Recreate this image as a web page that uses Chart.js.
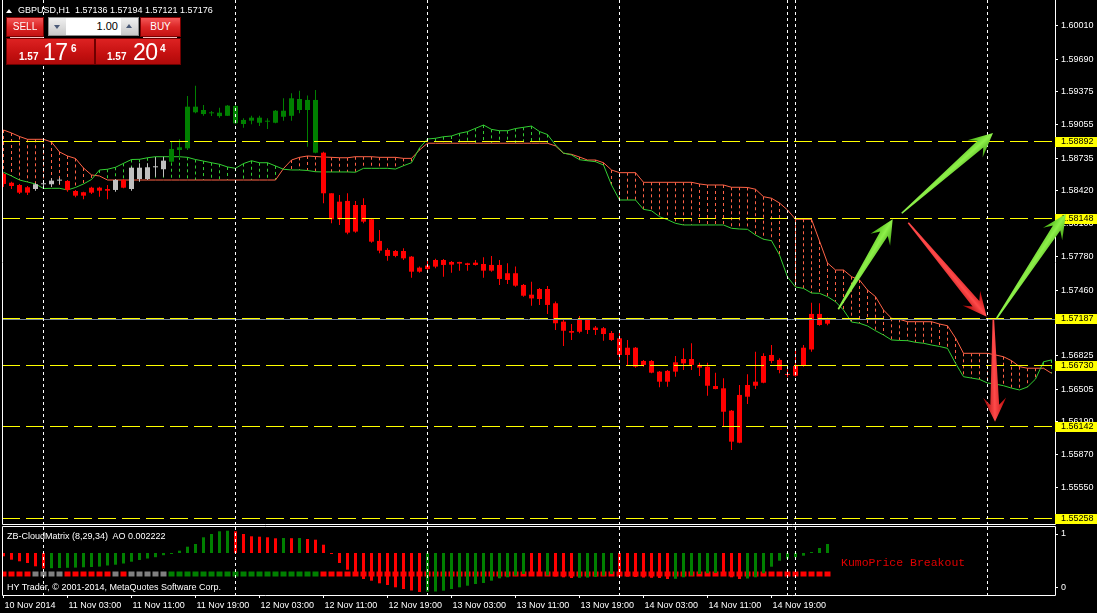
<!DOCTYPE html>
<html><head><meta charset="utf-8">
<script src="https://cdn.jsdelivr.net/npm/chart.js@4.4.1/dist/chart.umd.min.js"></script>
<style>
html,body{margin:0;padding:0;background:#000;}
#wrap{position:relative;width:1097px;height:613px;overflow:hidden;background:#000;font-family:"Liberation Sans",Arial,sans-serif;}
canvas{position:absolute;left:0;}
#c1{top:0;}
#c2{top:525px;}
.t{position:absolute;color:#fff;font-size:9px;line-height:11px;white-space:nowrap;z-index:5;}
#tri{position:absolute;left:6px;top:9px;width:0;height:0;border-left:3px solid transparent;border-right:3px solid transparent;border-bottom:4px solid #fff;z-index:5;}
.btn{position:absolute;top:17px;height:20px;box-sizing:border-box;border:1px solid #7a0000;background:linear-gradient(#f35656,#dc2626 50%,#c31212);color:#fff;font-size:10px;line-height:18px;text-align:center;z-index:5;}
.hl{position:absolute;top:37px;height:1px;background:#f3c0c0;z-index:6;}
#lot{position:absolute;left:48px;top:17px;width:91px;height:19px;box-sizing:border-box;border:1px solid #8c8c8c;background:#fff;z-index:5;}
.spin{position:absolute;top:0;width:17px;height:17px;background:linear-gradient(#f0f0f0,#c9c9c9);}
.spin i{position:absolute;left:5px;width:0;height:0;border-left:3px solid transparent;border-right:3px solid transparent;}
#lotv{position:absolute;left:18px;width:51px;top:0;height:17px;line-height:17px;text-align:right;font-size:11px;color:#000;}
.pbox{position:absolute;top:38px;height:27px;box-sizing:border-box;border:1px solid #6e0000;background:linear-gradient(#dd2222,#c41010 60%,#b00a0a);color:#fff;z-index:5;}
.pbox span{position:absolute;white-space:nowrap;}
.sm{font-size:10px;font-weight:bold;line-height:10px;top:13px;}
.big{font-size:23px;line-height:23px;top:2px;letter-spacing:-0.5px;}
.sup{font-size:10px;font-weight:bold;line-height:10px;top:5px;}
#kumo{position:absolute;left:841px;top:557px;font-family:"Liberation Mono","Courier New",monospace;font-size:11.5px;line-height:12px;color:#e00000;white-space:nowrap;z-index:5;}
</style></head>
<body><div id="wrap">
<canvas id="c1" width="1097" height="525" style="width:1097px;height:525px"></canvas>
<canvas id="c2" width="1097" height="88" style="width:1097px;height:88px"></canvas>

<div id="tri"></div>
<div class="t" style="left:18px;top:5px">GBPUSD,H1&nbsp; 1.57136 1.57194 1.57121 1.57176</div>

<div class="btn" style="left:6px;width:38px">SELL</div>
<div class="hl" style="left:10px;width:33px"></div>
<div id="lot">
  <div class="spin" style="left:0"><i style="top:7px;border-top:4px solid #4a5a78"></i></div>
  <div id="lotv">1.00</div>
  <div class="spin" style="right:0"><i style="top:6px;border-bottom:4px solid #4a5a78"></i></div>
</div>
<div class="btn" style="left:140px;width:41px">BUY</div>
<div class="hl" style="left:143px;width:34px"></div>
<div class="pbox" style="left:6px;width:89px"><span class="sm" style="left:12px">1.57</span><span class="big" style="left:36px">17</span><span class="sup" style="left:64px">6</span></div>
<div class="pbox" style="left:95px;width:86px"><span class="sm" style="left:11px">1.57</span><span class="big" style="left:37px">20</span><span class="sup" style="left:64px">4</span></div>

<div class="t" style="left:7px;top:531px">ZB-CloudMatrix (8,29,34)&nbsp; AO 0.002222</div>
<div class="t" style="left:7px;top:582px">HY Trader, © 2001-2014, MetaQuotes Software Corp.</div>
<div id="kumo">KumoPrice Breakout</div>
</div>

<script>
// ---------------- DATA ----------------
const timeTicks  = [0, 8, 16, 24, 32, 40, 48, 56, 64, 72, 80, 88, 96];
const timeLabels = ["10 Nov 2014","11 Nov 03:00","11 Nov 11:00","11 Nov 19:00","12 Nov 03:00","12 Nov 11:00",
                    "12 Nov 19:00","13 Nov 03:00","13 Nov 11:00","13 Nov 19:00","14 Nov 03:00","14 Nov 11:00","14 Nov 19:00"];
const priceTicks = [1.60010,1.59690,1.59375,1.59055,1.58735,1.58420,1.58100,1.57780,1.57460,1.56825,1.56505,1.56190,1.55870,1.55550];

const open = [1.58581,1.58497,1.58475,1.58453,1.58436,1.58482,1.58482,1.58517,1.58514,1.58417,
1.58405,1.58401,1.58449,1.58420,1.58427,1.58523,1.58436,1.58533,1.58533,1.58646,
1.58627,1.58700,1.58813,1.58829,1.59231,1.59160,1.59167,1.59140,1.59143,1.59238,
1.59064,1.59096,1.59125,1.59086,1.59076,1.59192,1.59143,1.59305,1.59199,1.59296,
1.58787,1.58395,1.58144,1.58321,1.58025,1.58282,1.58144,1.57935,1.57848,1.57790,
1.57838,1.57783,1.57677,1.57664,1.57687,1.57751,1.57706,1.57732,1.57703,1.57725,
1.57712,1.57648,1.57703,1.57558,1.57623,1.57510,1.57416,1.57374,1.57471,1.57333,
1.57156,1.57065,1.57058,1.57172,1.57075,1.57092,1.57046,1.56995,1.56834,1.56904,
1.56738,1.56776,1.56673,1.56576,1.56673,1.56753,1.56795,1.56738,1.56721,1.56534,
1.56512,1.56296,1.55987,1.56431,1.56537,1.56566,1.56834,1.56786,1.56641,1.56634,
1.56728,1.56887,1.57230,1.57136];
const high = [1.58591,1.58507,1.58485,1.58465,1.58492,1.58507,1.58540,1.58546,1.58523,1.58427,
1.58410,1.58459,1.58459,1.58475,1.58533,1.58533,1.58652,1.58684,1.58684,1.58742,
1.58748,1.58893,1.58916,1.59334,1.59434,1.59247,1.59189,1.59221,1.59247,1.59247,
1.59120,1.59144,1.59144,1.59120,1.59199,1.59312,1.59361,1.59385,1.59338,1.59392,
1.58797,1.58395,1.58378,1.58395,1.58321,1.58347,1.58147,1.58041,1.57864,1.57848,
1.57864,1.57790,1.57687,1.57744,1.57764,1.57761,1.57741,1.57735,1.57725,1.57751,
1.57777,1.57790,1.57751,1.57719,1.57687,1.57520,1.57542,1.57481,1.57500,1.57349,
1.57172,1.57134,1.57211,1.57182,1.57114,1.57104,1.57065,1.57058,1.56979,1.56911,
1.56786,1.56786,1.56680,1.56689,1.56824,1.56898,1.56947,1.56760,1.56760,1.56663,
1.56609,1.56302,1.56544,1.56647,1.56866,1.56850,1.56930,1.56802,1.56696,1.56898,
1.56930,1.57339,1.57333,1.57194];
const low = [1.58456,1.58436,1.58388,1.58378,1.58420,1.58443,1.58458,1.58485,1.58410,1.58356,
1.58337,1.58388,1.58362,1.58337,1.58410,1.58443,1.58420,1.58507,1.58523,1.58555,
1.58555,1.58684,1.58733,1.58813,1.59167,1.59143,1.59140,1.59124,1.59140,1.59061,
1.59028,1.59061,1.59045,1.59016,1.59071,1.59096,1.59096,1.59167,1.58845,1.58781,
1.58298,1.58105,1.58089,1.57999,1.58015,1.58105,1.57918,1.57815,1.57744,1.57777,
1.57751,1.57580,1.57628,1.57655,1.57671,1.57590,1.57628,1.57648,1.57648,1.57697,
1.57580,1.57638,1.57510,1.57520,1.57493,1.57396,1.57310,1.57317,1.57230,1.57075,
1.56921,1.56979,1.57043,1.57036,1.57027,1.56972,1.56969,1.56766,1.56728,1.56711,
1.56721,1.56657,1.56522,1.56528,1.56624,1.56689,1.56689,1.56631,1.56441,1.56502,
1.56142,1.55917,1.55981,1.56361,1.56505,1.56560,1.56753,1.56657,1.56620,1.56624,
1.56721,1.56866,1.57115,1.57121];
const close = [1.58485,1.58465,1.58401,1.58401,1.58482,1.58482,1.58517,1.58517,1.58427,1.58372,
1.58372,1.58449,1.58420,1.58436,1.58523,1.58449,1.58642,1.58642,1.58646,1.58646,
1.58710,1.58823,1.58839,1.59231,1.59177,1.59199,1.59167,1.59173,1.59241,1.59071,
1.59103,1.59125,1.59076,1.59086,1.59192,1.59134,1.59312,1.59199,1.59296,1.58787,
1.58395,1.58144,1.58314,1.58015,1.58282,1.58121,1.57928,1.57841,1.57790,1.57838,
1.57767,1.57638,1.57638,1.57697,1.57751,1.57703,1.57732,1.57716,1.57719,1.57703,
1.57648,1.57703,1.57568,1.57623,1.57503,1.57406,1.57380,1.57471,1.57317,1.57140,
1.57068,1.57049,1.57172,1.57075,1.57098,1.57036,1.56979,1.56834,1.56904,1.56721,
1.56776,1.56663,1.56576,1.56680,1.56763,1.56795,1.56738,1.56712,1.56537,1.56505,
1.56286,1.55997,1.56448,1.56544,1.56576,1.56824,1.56776,1.56689,1.56641,1.56728,
1.56904,1.57230,1.57123,1.57176];
// trend state per bar: r = down, g = up, n = neutral
const signal = ["r","r","r","r","n","n","n","n","r","r","r","r","r","r","n","r","n","n","n","n","n",
"g","g","g","g","g","g","g","g","g","g","g","g","g","g","g","g","g","g","g",
"r","r","r","r","r","r","r","r","r","r","r","r","r","r","r","r","r","r","r","r",
"r","r","r","r","r","r","r","r","r","r","r","r","r","r","r","r","r","r","r","r",
"r","r","r","r","r","r","r","r","r","r","r","r","r","r","r","r","r","r","r","r",
"r","r","r","r"];
const spanA = [1.59006,1.58977,1.58943,1.58916,1.58916,1.58916,1.58890,1.58794,1.58755,1.58731,
1.58639,1.58572,1.58562,1.58523,1.58523,1.58523,1.58523,1.58523,1.58523,1.58523,
1.58523,1.58523,1.58523,1.58523,1.58523,1.58523,1.58523,1.58523,1.58523,1.58523,
1.58523,1.58523,1.58523,1.58523,1.58523,1.58634,1.58716,1.58742,1.58755,1.58750,
1.58745,1.58742,1.58738,1.58738,1.58748,1.58748,1.58748,1.58742,1.58742,1.58742,
1.58732,1.58732,1.58813,1.58878,1.58878,1.58878,1.58878,1.58878,1.58878,1.58878,
1.58878,1.58878,1.58878,1.58878,1.58878,1.58878,1.58878,1.58878,1.58878,1.58852,
1.58781,1.58771,1.58745,1.58716,1.58716,1.58690,1.58620,1.58594,1.58594,1.58594,
1.58501,1.58501,1.58501,1.58501,1.58501,1.58501,1.58501,1.58485,1.58475,1.58475,
1.58475,1.58453,1.58453,1.58451,1.58434,1.58362,1.58347,1.58301,1.58234,1.58144,
1.58144,1.58144,1.57934,1.57722,1.57654,1.57654,1.57590,1.57558,1.57461,1.57397,
1.57268,1.57188,1.57178,1.57155,1.57155,1.57155,1.57155,1.57133,1.57116,1.56998,
1.56850,1.56850,1.56850,1.56850,1.56834,1.56817,1.56779,1.56721,1.56706,1.56706,
1.56706,1.56657];
const spanB = [1.58598,1.58562,1.58523,1.58504,1.58485,1.58441,1.58443,1.58443,1.58427,1.58451,
1.58485,1.58528,1.58620,1.58627,1.58646,1.58684,1.58721,1.58723,1.58738,1.58748,
1.58748,1.58748,1.58748,1.58742,1.58721,1.58706,1.58690,1.58675,1.58649,1.58636,
1.58682,1.58709,1.58690,1.58690,1.58659,1.58627,1.58620,1.58620,1.58615,1.58603,
1.58601,1.58601,1.58601,1.58601,1.58598,1.58636,1.58636,1.58636,1.58636,1.58629,
1.58661,1.58690,1.58832,1.58919,1.58926,1.58941,1.58948,1.58974,1.58990,1.59022,
1.59054,1.59012,1.58999,1.58999,1.59020,1.59032,1.59044,1.58991,1.58962,1.58861,
1.58784,1.58765,1.58719,1.58709,1.58700,1.58668,1.58475,1.58330,1.58330,1.58330,
1.58240,1.58226,1.58169,1.58140,1.58105,1.58089,1.58089,1.58089,1.58089,1.58089,
1.58089,1.58057,1.58050,1.58047,1.57992,1.57951,1.57937,1.57799,1.57587,1.57490,
1.57477,1.57432,1.57429,1.57397,1.57348,1.57268,1.57152,1.57140,1.57114,1.57068,
1.57027,1.56979,1.56974,1.56972,1.56956,1.56947,1.56930,1.56916,1.56898,1.56754,
1.56624,1.56611,1.56598,1.56563,1.56553,1.56537,1.56514,1.56496,1.56525,1.56601,
1.56768,1.56786];
const ao = [-0.00033,-0.00067,-0.00083,-0.00100,-0.00133,-0.00155,-0.00152,-0.00150,-0.00148,-0.00146,
-0.00143,-0.00140,-0.00136,-0.00125,-0.00117,-0.00105,-0.00087,-0.00070,-0.00055,-0.00042,
-0.00022,-0.00008,0.00023,0.00063,0.00090,0.00157,0.00190,0.00217,0.00223,0.00217,
0.00190,0.00167,0.00163,0.00157,0.00147,0.00150,0.00148,0.00150,0.00140,0.00133,
0.00083,-0.00003,-0.00100,-0.00167,-0.00210,-0.00260,-0.00277,-0.00303,-0.00320,-0.00343,
-0.00360,-0.00375,-0.00390,-0.00387,-0.00385,-0.00377,-0.00360,-0.00343,-0.00327,-0.00310,
-0.00300,-0.00277,-0.00253,-0.00243,-0.00227,-0.00210,-0.00215,-0.00230,-0.00225,-0.00235,
-0.00243,-0.00250,-0.00248,-0.00246,-0.00240,-0.00227,-0.00210,-0.00227,-0.00237,-0.00240,
-0.00245,-0.00248,-0.00250,-0.00260,-0.00258,-0.00243,-0.00227,-0.00210,-0.00203,-0.00200,
-0.00227,-0.00243,-0.00260,-0.00255,-0.00243,-0.00203,-0.00137,-0.00077,-0.00057,-0.00043,
-0.00027,0.00010,0.00050,0.00090];
const levels = [1.58892, 1.58148, 1.57187, 1.56730, 1.56142, 1.55258];
const bid = 1.57176;
const separators = [5, 29, 53, 77, 98, 99, 123];
// arrows: [fromBar, fromPrice, toBar, toPrice, colour]
const arrows = [
  [104.35, 1.57275, 111.15, 1.58144, "g"],
  [112.28, 1.58202, 123.69, 1.58977, "g"],
  [113.10, 1.58111, 122.90, 1.57204, "r"],
  [123.73, 1.57178, 123.94, 1.56190, "r"],
  [124.15, 1.57188, 132.80, 1.58195, "g"]
];

// ---------------- STYLE ----------------
const C = { spanA:"#ff6347", spanB:"#32cd32", yellow:"#ffff00", bid:"#778899", frame:"#ffffff" };
const CANDLE_COL = { r:"#ff0000", g:"#008000", n:"#c0c0c0" };
const SQUARE_COL = { r:"#ff0000", g:"#008000", n:"#808080" };
const SIGNAL_ROW = [-0.00235, -0.00185];
const X_MIN = -0.1875, X_MAX = 131.4375;
const FONT = { family: '"Liberation Sans", Arial, sans-serif', size: 9 };

Chart.defaults.font.family = FONT.family;
Chart.defaults.font.size = 9;
Chart.defaults.color = "#ffffff";

const bars = close.map((_, i) => i);
const candleCol = signal.map(s => CANDLE_COL[s]);

function drawArrow(ctx, x0, y0, x1, y1, col) {
  const dx = x1 - x0, dy = y1 - y0, L = Math.hypot(dx, dy);
  const ux = dx / L, uy = dy / L, nx = -uy, ny = ux;
  const H = 24, W = 11.5, neck = 4.4, tail = 0.8;
  const bx = x1 - ux * H, by = y1 - uy * H;
  const kx = x1 - ux * H * 0.7, ky = y1 - uy * H * 0.7;
  const g = ctx.createLinearGradient(kx + nx * W, ky + ny * W, kx - nx * W, ky - ny * W);
  if (col === "g") { g.addColorStop(0, "#3e9e10"); g.addColorStop(0.5, "#8ef04a"); g.addColorStop(1, "#46b012"); }
  else { g.addColorStop(0, "#9c0000"); g.addColorStop(0.5, "#ff4a4a"); g.addColorStop(1, "#b80606"); }
  ctx.beginPath();
  ctx.moveTo(x0 + nx * tail, y0 + ny * tail);
  ctx.lineTo(kx + nx * neck, ky + ny * neck);
  ctx.lineTo(bx + nx * W, by + ny * W);
  ctx.lineTo(x1, y1);
  ctx.lineTo(bx - nx * W, by - ny * W);
  ctx.lineTo(kx - nx * neck, ky - ny * neck);
  ctx.lineTo(x0 - nx * tail, y0 - ny * tail);
  ctx.closePath();
  ctx.fillStyle = g; ctx.fill();
}

function vSeparators(chart) {
  const { ctx, chartArea: a, scales: { x } } = chart;
  ctx.save();
  ctx.strokeStyle = "#ffffff"; ctx.lineWidth = 1; ctx.setLineDash([3, 3]);
  separators.forEach(s => {
    const px = x.getPixelForValue(s);
    ctx.beginPath(); ctx.moveTo(px, a.top); ctx.lineTo(px, a.bottom); ctx.stroke();
  });
  ctx.restore();
}
function frame(chart, top) {
  const { ctx, chartArea: a } = chart;
  ctx.save(); ctx.strokeStyle = C.frame; ctx.lineWidth = 1; ctx.setLineDash([]);
  ctx.beginPath();
  if (top) { ctx.moveTo(a.left + 0.5, a.top - 0.5); ctx.lineTo(a.right + 0.5, a.top - 0.5); }
  ctx.moveTo(a.left + 0.5, a.top - (top ? 0.5 : 0)); ctx.lineTo(a.left + 0.5, a.bottom + 0.5);
  ctx.lineTo(a.right + 0.5, a.bottom + 0.5); ctx.lineTo(a.right + 0.5, a.top - (top ? 0.5 : 0));
  ctx.stroke(); ctx.restore();
}

const mainOverlay = {
  id: "mainOverlay",
  beforeDatasetsDraw(chart) {
    const { ctx, chartArea: a, scales: { x, y } } = chart;
    ctx.save();
    ctx.beginPath(); ctx.rect(a.left, a.top, a.right - a.left, a.bottom - a.top); ctx.clip();
    ctx.lineWidth = 1; ctx.setLineDash([3, 3]);
    spanA.forEach((va, i) => {
      const vb = spanB[i];
      const px = x.getPixelForValue(i);
      ctx.strokeStyle = va >= vb ? C.spanA : C.spanB;
      ctx.beginPath();
      ctx.moveTo(px, y.getPixelForValue(Math.max(va, vb)));
      ctx.lineTo(px, y.getPixelForValue(Math.min(va, vb)));
      ctx.stroke();
    });
    ctx.restore();
  },
  afterDatasetsDraw(chart) {
    const { ctx, chartArea: a, scales: { y } } = chart;
    ctx.save();
    ctx.beginPath(); ctx.rect(a.left, a.top, a.right - a.left, a.bottom - a.top); ctx.clip();
    ctx.lineWidth = 1;
    const by = Math.floor(y.getPixelForValue(bid)) + 0.5;
    ctx.strokeStyle = C.bid; ctx.setLineDash([]);
    ctx.beginPath(); ctx.moveTo(a.left, by); ctx.lineTo(a.right, by); ctx.stroke();
    ctx.strokeStyle = C.yellow; ctx.setLineDash([18, 6]);
    levels.forEach(v => {
      const py = Math.floor(y.getPixelForValue(v)) + 0.5;
      ctx.beginPath(); ctx.moveTo(a.left, py); ctx.lineTo(a.right, py); ctx.stroke();
    });
    ctx.restore();
    vSeparators(chart);
  },
  afterDraw(chart) {
    const { ctx, chartArea: a, scales: { x, y } } = chart;
    frame(chart, false);
    ctx.save();
    ctx.font = "9px " + FONT.family; ctx.textBaseline = "middle"; ctx.textAlign = "left";
    levels.forEach(v => {
      const py = Math.floor(y.getPixelForValue(v));
      ctx.fillStyle = C.yellow; ctx.fillRect(a.right, py - 4, 42, 10);
      ctx.fillStyle = "#000"; ctx.fillText(v.toFixed(5), a.right + 6, py + 1);
    });
    arrows.forEach(([i0, p0, i1, p1, c]) => {
      drawArrow(ctx, x.getPixelForValue(i0), y.getPixelForValue(p0), x.getPixelForValue(i1), y.getPixelForValue(p1), c);
    });
    ctx.restore();
  }
};

new Chart(document.getElementById("c1"), {
  type: "bar",
  data: { datasets: [
    { type: "line", label: "Senkou Span A", data: spanA.map((v, i) => ({ x: i, y: v })), borderColor: C.spanA, borderWidth: 1, pointRadius: 0, tension: 0, order: 4 },
    { type: "line", label: "Senkou Span B", data: spanB.map((v, i) => ({ x: i, y: v })), borderColor: C.spanB, borderWidth: 1, pointRadius: 0, tension: 0, order: 3 },
    { type: "bar", label: "High-Low", data: bars.map(i => ({ x: i, y: [low[i], high[i]] })), backgroundColor: candleCol, barThickness: 1, grouped: false, minBarLength: 1, inflateAmount: 0, borderWidth: 0, order: 2 },
    { type: "bar", label: "Open-Close", data: bars.map(i => ({ x: i, y: [open[i], close[i]] })), backgroundColor: candleCol, barThickness: 5, grouped: false, minBarLength: 1, inflateAmount: 0, borderWidth: 0, order: 1 }
  ]},
  options: {
    responsive: false, animation: false, events: [],
    layout: { padding: { left: 2, right: 0, top: 0, bottom: 1 } },
    plugins: { legend: { display: false }, tooltip: { enabled: false } },
    scales: {
      x: { type: "linear", display: false, min: X_MIN, max: X_MAX, offset: false, grid: { offset: false } },
      y: {
        type: "linear", position: "right", min: 1.55202, max: 1.60261,
        afterBuildTicks: s => { s.ticks = priceTicks.map(v => ({ value: v })); },
        afterFit: s => { s.width = 42; s.paddingTop = 0; s.paddingBottom = 0; },
        ticks: { autoSkip: false, color: "#ffffff", font: FONT, padding: 3, crossAlign: "near", callback: v => Number(v).toFixed(5) },
        grid: { drawOnChartArea: false, drawTicks: true, tickLength: 3, tickColor: "#ffffff", color: "#ffffff" },
        border: { display: false }
      }
    }
  },
  plugins: [mainOverlay]
});

const indOverlay = {
  id: "indOverlay",
  afterDatasetsDraw(chart) { vSeparators(chart); },
  afterDraw(chart) { frame(chart, true); }
};

new Chart(document.getElementById("c2"), {
  type: "bar",
  data: { datasets: [
    { label: "CloudMatrix signal", data: bars.map(i => ({ x: i, y: SIGNAL_ROW })), backgroundColor: signal.map(s => SQUARE_COL[s]), barThickness: 6, grouped: false, inflateAmount: 0, borderWidth: 0, yAxisID: "ao", order: 2 },
    { label: "AO", data: ao.map((v, i) => ({ x: i, y: v })), backgroundColor: ao.map((v, i) => (i > 0 && v > ao[i - 1]) ? "#008000" : "#ff0000"), barThickness: 3, grouped: false, minBarLength: 1, inflateAmount: 0, borderWidth: 0, yAxisID: "ao", order: 1 }
  ]},
  options: {
    responsive: false, animation: false, events: [],
    layout: { padding: { left: 2, right: 0, top: 2, bottom: 0 } },
    plugins: { legend: { display: false }, tooltip: { enabled: false } },
    scales: {
      x: {
        type: "linear", position: "bottom", min: X_MIN, max: X_MAX, offset: false,
        afterBuildTicks: s => { s.ticks = timeTicks.map(v => ({ value: v })); },
        afterFit: s => { s.height = 18; s.paddingLeft = 0; s.paddingRight = 0; },
        ticks: { autoSkip: false, maxRotation: 0, minRotation: 0, align: "start", labelOffset: 1, padding: 2, color: "#ffffff", font: FONT, callback: (v, k) => timeLabels[k] },
        grid: { drawOnChartArea: false, drawTicks: true, tickLength: 3, tickColor: "#ffffff", offset: false },
        border: { display: false }
      },
      ao: { type: "linear", display: false, min: -0.0042, max: 0.0026 },
      y: {
        type: "linear", position: "right", min: -0.12963, max: 1.12963,
        afterBuildTicks: s => { s.ticks = [{ value: 0 }, { value: 1 }]; },
        afterFit: s => { s.width = 42; s.paddingTop = 0; s.paddingBottom = 0; },
        ticks: { autoSkip: false, color: "#ffffff", font: FONT, padding: 3, crossAlign: "near", callback: v => String(v) },
        grid: { drawOnChartArea: false, drawTicks: true, tickLength: 3, tickColor: "#ffffff" },
        border: { display: false }
      }
    }
  },
  plugins: [indOverlay]
});
</script>
</body></html>
